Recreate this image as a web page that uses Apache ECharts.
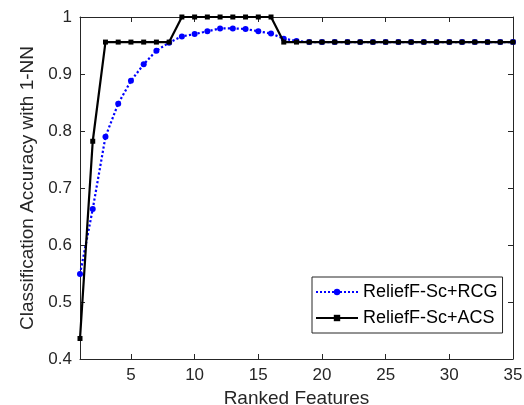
<!DOCTYPE html>
<html>
<head>
<meta charset="utf-8">
<script src="https://cdn.jsdelivr.net/npm/echarts@6/dist/echarts.min.js"></script>
<style>
html,body{margin:0;padding:0;background:#fff;}
#chart{width:524px;height:405px;}
</style>
</head>
<body>
<div id="chart"></div>
<script>
/*----------data----------*/
var features=[1,2,3,4,5,6,7,8,9,10,11,12,13,14,15,16,17,18,19,20,21,22,23,24,25,26,27,28,29,30,31,32,33,34,35];
var rcg=[0.549,0.663,0.790,0.848,0.888,0.917,0.941,0.955,0.966,0.970,0.975,0.980,0.980,0.979,0.975,0.971,0.962,0.958,
	0.956,0.956,0.956,0.956,0.956,0.956,0.956,0.956,0.956,0.956,0.956,0.956,0.956,0.956,0.956,0.956,0.956];
var acs=[0.436,0.782,0.956,0.956,0.956,0.956,0.956,0.956,1,1,1,1,1,1,1,1,
	0.956,0.956,0.956,0.956,0.956,0.956,0.956,0.956,0.956,0.956,0.956,0.956,0.956,0.956,0.956,0.956,0.956,0.956,0.956];
var xTicks=[5,10,15,20,25,30,35];
var yTicks=[0.4,0.5,0.6,0.7,0.8,0.9,1];
var names=["ReliefF-Sc+RCG","ReliefF-Sc+ACS"];
/*----------chart----------*/
var axisColor="#262626";
var font="Liberation Sans, Arial, Helvetica, sans-serif";
function pairs(ys){	//zip x and y
	return features.map(function(x,i){return [x,ys[i]];});
}
function xAxisOf(pos,show){
	return {
		type:"value",position:pos,min:1,max:35,
		name:show?"Ranked Features":"",nameLocation:"middle",nameGap:28,
		nameTextStyle:{color:axisColor,fontSize:19,fontFamily:font},
		axisLine:{show:true,lineStyle:{color:axisColor,width:1}},
		axisTick:{show:true,inside:true,length:5,customValues:xTicks,lineStyle:{color:axisColor}},
		axisLabel:{show:show,customValues:xTicks,color:axisColor,fontSize:17,fontFamily:font,margin:8},
		splitLine:{show:false}
	};
}
function yAxisOf(pos,show){
	return {
		type:"value",position:pos,min:0.4,max:1,
		name:show?"Classification Accuracy with 1-NN":"",nameLocation:"middle",nameGap:35,
		nameTextStyle:{color:axisColor,fontSize:19,fontFamily:font},
		axisLine:{show:true,lineStyle:{color:axisColor,width:1}},
		axisTick:{show:true,inside:true,length:5,customValues:yTicks,lineStyle:{color:axisColor}},
		axisLabel:{show:show,customValues:yTicks,color:axisColor,fontSize:17,fontFamily:font,margin:8,
			formatter:function(v){return String(+v.toFixed(1));}},
		splitLine:{show:false}
	};
}
var chart=echarts.init(document.getElementById("chart"));
chart.setOption({
	animation:false,
	backgroundColor:"#fff",
	grid:{left:80,right:11,top:17,bottom:46,containLabel:false,outerBoundsMode:"none"},
	legend:{
		orient:"vertical",left:312,top:277,
		padding:[6,5,6,3],itemGap:8,itemWidth:42,itemHeight:8,
		backgroundColor:"#fff",borderColor:axisColor,borderWidth:1,
		textStyle:{color:"#000",fontSize:18,fontFamily:font},
		data:names
	},
	xAxis:[xAxisOf("bottom",true),xAxisOf("top",false)],
	yAxis:[yAxisOf("left",true),yAxisOf("right",false)],
	series:[
		{
			type:"line",name:names[0],data:pairs(rcg),
			symbol:"circle",symbolSize:6,
			lineStyle:{color:"#0000ff",width:2.2,type:"dotted"},
			itemStyle:{color:"#0000ff"},
			z:2
		},
		{
			type:"line",name:names[1],data:pairs(acs),
			symbol:"rect",symbolSize:5,
			lineStyle:{color:"#000",width:2.2,type:"solid"},
			itemStyle:{color:"#000"},
			z:3
		}
	]
});
</script>
</body>
</html>
